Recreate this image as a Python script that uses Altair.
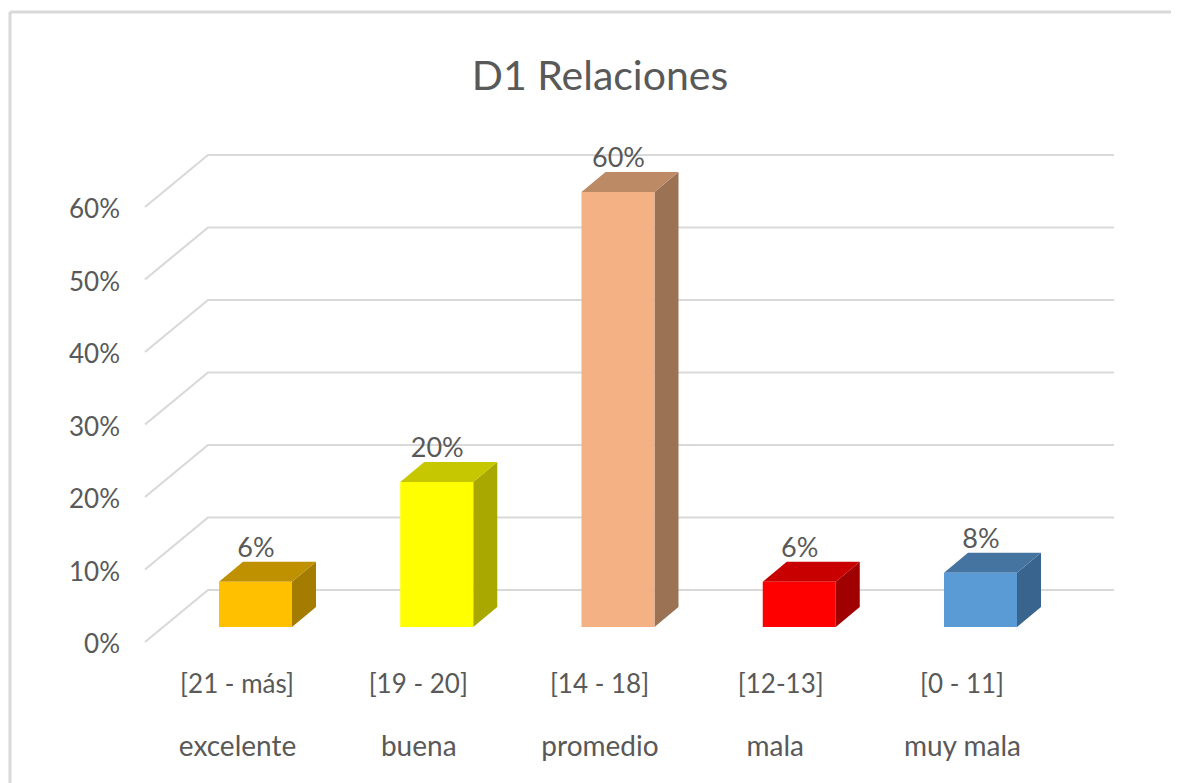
import altair as alt
import pandas as pd

# --- chart values ---
rangos = ["[21 - más]", "[19 - 20]", "[14 - 18]", "[12-13]", "[0 - 11]"]
calidad = ["excelente", "buena", "promedio", "mala", "muy mala"]
valores = [6.25, 20, 60, 6.25, 7.5]
etiquetas = ["6%", "20%", "60%", "6%", "8%"]
ticks = [0, 10, 20, 30, 40, 50, 60]
color_frente = ["#FFC000", "#FFFF00", "#F4B183", "#FF0000", "#5B9BD5"]
color_arriba = ["#BF9000", "#C7C700", "#BD8A66", "#C80000", "#44749F"]
color_lado = ["#A37C00", "#A8A800", "#9C7254", "#A00000", "#38648E"]

# --- layout: pixel geometry turned into scale units ---
W, H = 1163, 775
SLOT = 181.25            # px per category
PX_PCT = 7.25            # px per percentage point
X0, Y0 = 247.5, 619      # chart px of category 0 centre, of value 0
u = lambda dx: dx / SLOT
v = lambda dy: dy / PX_PCT
x_scale = alt.Scale(domain=[-X0 / SLOT, (W - X0) / SLOT], nice=False, zero=False)
y_scale = alt.Scale(domain=[(Y0 - H) / PX_PCT, Y0 / PX_PCT], nice=False, zero=False)
X = lambda f: alt.X(f, type="quantitative", scale=x_scale, axis=None)
Y = lambda f: alt.Y(f, type="quantitative", scale=y_scale, axis=None, stack=None)

HALF = u(36.5)
DX, DY = u(24), v(20)

# gridlines: side wall + back wall
grid_rows = []
for t in ticks:
    grid_rows += [
        {"t": t, "x": u(145 - 255.5), "y": t + v(-15)},
        {"t": t, "x": u(208 - 255.5), "y": t + v(37)},
        {"t": t, "x": u(1114 - 255.5), "y": t + v(37)},
    ]
grid = alt.Chart(pd.DataFrame(grid_rows)).mark_line(color="#D9D9D9", strokeWidth=2.2).encode(
    x=X("x"), y=Y("y"), detail="t:N", order="x:Q"
)

# y labels
axis_df = pd.DataFrame({"x": [u(120 - 255.5)] * len(ticks),
                        "y": [t + v(-18) for t in ticks],
                        "label": [f"{t}%" for t in ticks]})
text_kw = dict(font="Lato", color="#595959", baseline="middle")
axis_labels = alt.Chart(axis_df).mark_text(align="right", fontSize=26, **text_kw).encode(
    x=X("x"), y=Y("y"), text="label:N"
)

# bar faces
front_rows, top_rows, side_rows = [], [], []
for i, val in enumerate(valores):
    L, R = i - HALF, i + HALF
    front_rows.append({"x": L, "x2": R, "y": val, "y2": 0, "c": color_frente[i]})
    for x, hi, lo in [(L, val, val), (L + DX, val + DY, val), (R, val + DY, val), (R + DX, val + DY, val + DY)]:
        top_rows.append({"bar": i, "x": x, "y": hi, "y2": lo, "c": color_arriba[i]})
    for x, hi, lo in [(R, val, 0), (R + DX, val + DY, DY)]:
        side_rows.append({"bar": i, "x": x, "y": hi, "y2": lo, "c": color_lado[i]})

color = alt.Color("c:N", scale=None, legend=None)
front = alt.Chart(pd.DataFrame(front_rows)).mark_rect().encode(
    x=X("x"), x2="x2:Q", y=Y("y"), y2="y2:Q", color=color
)
top = alt.Chart(pd.DataFrame(top_rows)).mark_area(opacity=1, orient="vertical").encode(
    x=X("x"), y=Y("y"), y2=alt.Y2("y2:Q"), color=color
)
side = alt.Chart(pd.DataFrame(side_rows)).mark_area(opacity=1, orient="vertical").encode(
    x=X("x"), y=Y("y"), y2=alt.Y2("y2:Q"), color=color
)

# value labels
val_df = pd.DataFrame({"x": [i + u(0.5) for i in range(5)],
                       "y": [val + DY + v(13) for val in valores],
                       "label": etiquetas})
value_labels = alt.Chart(val_df).mark_text(align="center", fontSize=27, **text_kw).encode(
    x=X("x"), y=Y("y"), text="label:N"
)

# category labels, two rows
row1 = pd.DataFrame({"x": [i + u(-18.5) for i in range(5)],
                     "y": [v(627 - 685)] * 5, "label": rangos})
row2_shift = {"mala": -6}
row2 = pd.DataFrame({"x": [i + u(-18 + row2_shift.get(c, 0)) for i, c in enumerate(calidad)],
                     "y": [v(627 - 748)] * 5, "label": calidad})
cat1 = alt.Chart(row1).mark_text(align="center", fontSize=26, **text_kw).encode(x=X("x"), y=Y("y"), text="label:N")
cat2 = alt.Chart(row2).mark_text(align="center", fontSize=28, **text_kw).encode(x=X("x"), y=Y("y"), text="label:N")

# frame of the chart area
frame_left = alt.Chart(pd.DataFrame({"a": [0]})).mark_rule(color="#D9D9D9", strokeWidth=3).encode(
    x=alt.value(2), y=alt.value(4), y2=alt.value(H)
)
frame_top = alt.Chart(pd.DataFrame({"a": [0]})).mark_rule(color="#D9D9D9", strokeWidth=3).encode(
    x=alt.value(2), x2=alt.value(W), y=alt.value(4)
)

# title
title_df = pd.DataFrame({"x": [u(600 - 255.5)], "y": [v(627 - 78)], "label": ["D1 Relaciones"]})
title = alt.Chart(title_df).mark_text(align="center", baseline="middle", font="Lato",
                                      fontSize=41, color="#595959").encode(
    x=X("x"), y=Y("y"), text="label:N"
)

chart = alt.layer(frame_left, frame_top, grid, axis_labels, side, top, front,
                  value_labels, cat1, cat2, title).properties(
    width=W, height=H, padding=0, background="white",
    autosize=alt.AutoSizeParams(type="none"),
).configure_view(stroke=None)

chart.save("out.html", embed_options={"renderer": "svg", "actions": False})
